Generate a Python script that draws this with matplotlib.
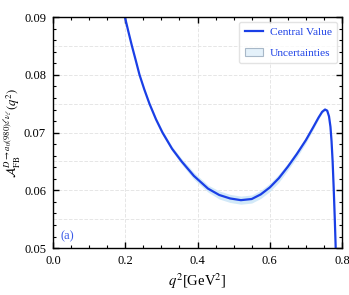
import matplotlib
matplotlib.use('Agg')
import matplotlib.pyplot as plt
import numpy as np
from matplotlib.ticker import MultipleLocator
from matplotlib.patches import Patch

plt.rcParams['font.family'] = ['Liberation Serif', 'DejaVu Serif']
plt.rcParams['mathtext.fontset'] = 'stix'

# values
q2 = [0.195, 0.199, 0.2085, 0.2184, 0.2290, 0.2394, 0.2525, 0.2669, 0.2850, 0.3030,
      0.3295, 0.3560, 0.3900, 0.4290, 0.4600, 0.4900, 0.5200, 0.5500, 0.5750, 0.6000,
      0.6250, 0.6500, 0.6750, 0.7000, 0.7200, 0.7350, 0.7450, 0.7530, 0.7590, 0.7640,
      0.7680, 0.7710, 0.7740, 0.7770, 0.7800, 0.7820, 0.7830]
afb = [0.0915, 0.0900, 0.0875, 0.0850, 0.0825, 0.0800, 0.0775, 0.0750, 0.0723, 0.0700,
       0.0672, 0.0650, 0.0625, 0.0603, 0.0592, 0.0586, 0.0583, 0.0585, 0.0593, 0.0605,
       0.0621, 0.0641, 0.0663, 0.0687, 0.0709, 0.0726, 0.0736, 0.0740, 0.0738, 0.0728,
       0.0710, 0.0685, 0.0650, 0.0603, 0.0550, 0.0510, 0.0490]
err = [0.0001, 0.0001, 0.0001, 0.0001, 0.0002, 0.0002, 0.0002, 0.0003, 0.0003, 0.0004,
       0.0004, 0.0005, 0.0006, 0.0006, 0.0007, 0.0007, 0.0007, 0.0007, 0.0007, 0.0007,
       0.0007, 0.0006, 0.0006, 0.0005, 0.0004, 0.0003, 0.0002, 0.0002, 0.0002, 0.0001,
       0.0001, 0.0001, 0.0001, 0.0001, 0.0001, 0.0001, 0.0001]

q2 = np.array(q2)
afb = np.array(afb)
err = np.array(err)

fig = plt.figure(figsize=(3.49, 2.95), dpi=100)
ax = fig.add_axes([0.152, 0.159, 0.828, 0.783])

ax.fill_between(q2, afb - err, afb + err, color='#d2e9f8', lw=0)
ax.plot(q2, afb, color='#1a3fe6', lw=1.6)

ax.set_xlim(0, 0.8)
ax.set_ylim(0.05, 0.09)
ax.xaxis.set_major_locator(MultipleLocator(0.2))
ax.xaxis.set_minor_locator(MultipleLocator(0.05))
ax.yaxis.set_major_locator(MultipleLocator(0.01))
ax.yaxis.set_minor_locator(MultipleLocator(0.002))
ax.tick_params(which='both', direction='in', top=True, right=True, labelsize=9)
ax.tick_params(which='major', length=4, width=1, pad=5)
ax.tick_params(which='minor', length=2, width=0.8)

for v in [0.2, 0.4, 0.6]:
    ax.axvline(v, color='#e6e6e6', ls='--', lw=0.7, zorder=0)
for v in np.arange(0.055, 0.0899, 0.005):
    ax.axhline(v, color='#e6e6e6', ls='--', lw=0.7, zorder=0)

ax.set_xlabel(r'$q^2$[GeV$^2$]', fontsize=10.5, labelpad=3)
ax.set_ylabel(r'$\mathcal{A}_{\rm FB}^{D\to a_0(980)\ell\nu_\ell}(q^2)$', fontsize=9, labelpad=1)
ax.text(0.021, 0.0521, '(a)', color='#3a5ae8', fontsize=9, va='center')

handles = [plt.Line2D([], [], color='#1a3fe6', lw=1.6),
           Patch(facecolor='#e4f1fa', edgecolor='#a8b8c8', lw=0.8)]
leg = ax.legend(handles, ['Central Value', 'Uncertainties'], loc='upper right',
                fontsize=8.2, labelcolor='#1a3fe6', frameon=True, fancybox=True,
                edgecolor='#dddddd', handlelength=1.6, handletextpad=0.6,
                borderpad=0.5, labelspacing=0.9, borderaxespad=0.4)

for s in ax.spines.values():
    s.set_linewidth(1)

fig.savefig('out.png', dpi=100)
